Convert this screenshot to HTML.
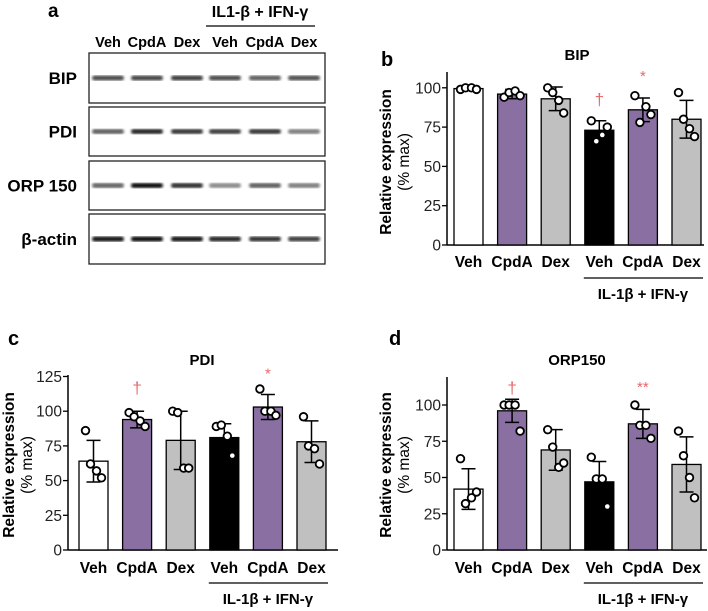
<!DOCTYPE html>
<html><head><meta charset="utf-8">
<style>
html,body{margin:0;padding:0;background:#fff;}
svg{display:block;font-family:"Liberation Sans",Arial,sans-serif;}
</style></head>
<body>
<svg id="fig" width="708" height="611" viewBox="0 0 708 611" xmlns="http://www.w3.org/2000/svg">
<defs>
<filter id="blur1"><feGaussianBlur stdDeviation="1.3"/></filter>
</defs>
</svg>
<script>
const categories = ["Veh","CpdA","Dex","Veh","CpdA","Dex"];
const fills = ["#ffffff","#8a6fa3","#c0c0c0","#000000","#8a6fa3","#c0c0c0"];
const bipMeans = [99.5,96,93,73,86,80];
const bipSD = [1,3,7.5,6,7.5,12];
const bipPoints = [[99,100,100,99],[94,97,98,95],[100,97,92,84],[79,66,70,75],[95,78,88,83],[97,80,74,69]];
const bipSig = [null,null,null,"†","*",null];
const bipSigY = [0,0,0,93,108,0];
const pdiMeans = [64,94,79,81,103,78];
const pdiSD = [15,6,21,10,9,15];
const pdiPoints = [[86,62,57,52],[99,96,93,89],[100,99,59,59],[89,90,82,68],[116,100,100,97],[96,75,73,62]];
const pdiSig = [null,"†",null,null,"*",null];
const pdiSigY = [0,117,0,0,128,0];
const orpMeans = [42,96,69,47,87,59];
const orpSD = [14,8,14,14,10,19];
const orpPoints = [[63,32,36,40],[100,100,100,82],[83,71,57,60],[64,49,49,30],[100,86,86,77],[82,65,50,36]];
const orpSig = [null,"†",null,null,"**",null];
const orpSigY = [0,112,0,0,113,0];
const bipTicks = [0,25,50,75,100];
const pdiTicks = [0,25,50,75,100,125];
const orpTicks = [0,25,50,75,100];
const blotRows = ["BIP","PDI","ORP 150","β-actin"];
const bandIntensity = [[0.7,0.72,0.75,0.7,0.62,0.68],[0.62,0.85,0.78,0.75,0.78,0.5],[0.6,0.95,0.8,0.45,0.62,0.5],[0.9,0.95,0.92,0.85,0.8,0.75]];

const NS="http://www.w3.org/2000/svg";
const svg=document.getElementById('fig');
function mk(tag,attrs,parent){const e=document.createElementNS(NS,tag);for(const k in attrs)e.setAttribute(k,attrs[k]);(parent||svg).appendChild(e);return e;}
function txt(s,attrs,parent){const e=mk('text',attrs,parent);e.textContent=s;return e;}

function chart(o){
  const g=mk('g',{});
  
  
  const y=v=>o.y0-(v/25)*o.px25;
  const x=i=>o.x0+o.first+i*o.step;
  const t=txt(o.title,{x:o.titleX,y:o.titleY,'text-anchor':'middle','font-size':15,'font-weight':'bold'},g);
  
  
  const L=txt(o.letter,{x:o.lx,y:o.ly,'font-size':20,'font-weight':'bold'},g);
  
  
  const ya=mk('line',{x1:o.x0,y1:o.yTop,x2:o.x0,y2:o.y0+0.5,stroke:'#000','stroke-width':1.5},g);
  
  
  const xa=mk('line',{x1:o.x0,y1:o.y0,x2:o.xEnd,y2:o.y0,stroke:'#000','stroke-width':1.5},g);
  
  
  o.ticks.forEach(v=>{
    mk('line',{x1:o.x0-5,y1:y(v),x2:o.x0,y2:y(v),stroke:'#000','stroke-width':1.3},g);
    const tl=txt(String(v),{x:o.x0-6,y:y(v)+5.5,'text-anchor':'end','font-size':15.5,fill:'#222'},g);
    
    
  });
  const yl=mk('text',{transform:`translate(${o.ytx},${o.tyc}) rotate(-90)`,'text-anchor':'middle','font-size':15.5},g);
  
  
  const s1=mk('tspan',{x:0,y:0,'font-weight':'bold'},yl);s1.textContent='Relative expression';
  const s2=mk('tspan',{x:0,y:18},yl);s2.textContent='(% max)';
  const bw=29;
  categories.forEach((c,i)=>{
    const cx=x(i);
    const m=o.means[i];
    const r=mk('rect',{x:cx-bw/2,y:y(m),width:bw,height:o.y0-y(m),fill:fills[i],stroke:'#000','stroke-width':1.3},g);
    
    
    const hi=y(m+o.sd[i]), lo=y(m-o.sd[i]);
    const eb=mk('path',{d:`M${cx},${hi}V${lo}M${cx-7},${hi}H${cx+7}M${cx-7},${lo}H${cx+7}`,stroke:'#000','stroke-width':1.5,fill:'none'},g);
    
    
    const offs=[-8,-3,3,8];
    o.points[i].forEach((p,j)=>{
      const dark=i===3&&p<m;
      const pt=mk('circle',{cx:cx+offs[j],cy:y(p),r:dark?2.3:3.8,fill:'#fff',stroke:'#000','stroke-width':dark?0:1.8},g);
      
      
    });
    const cl=txt(c,{x:cx,y:o.labY,'text-anchor':'middle','font-size':15.5,'font-weight':'bold'},g);
    
    
    if(o.sig[i]){
      const sg=txt(o.sig[i],{x:cx,y:y(o.sigY[i])+6,'text-anchor':'middle','font-size':o.sig[i]==='†'?17:15,fill:'#e8676a'},g);
      
      
    }
  });
  const ln=mk('line',{x1:x(3)-bw/2-1,y1:o.lineY,x2:x(5)+bw/2+2,y2:o.lineY,stroke:'#000','stroke-width':1.3},g);
  
  
  const il=txt('IL-1β + IFN-γ',{x:x(4),y:o.lineY+21,'text-anchor':'middle','font-size':15,'font-weight':'bold'},g);
  
  
}

chart({name:'bip',title:'BIP',titleX:577,titleY:60,letter:'b',lx:381,ly:66,x0:447,y0:245,px25:39.3,yTop:72,xEnd:704,first:21.5,step:43.6,ticks:bipTicks,ytx:391,tyc:162,means:bipMeans,sd:bipSD,points:bipPoints,sig:bipSig,sigY:bipSigY,labY:267,lineY:278});
chart({name:'pdi',title:'PDI',titleX:202,titleY:365,letter:'c',lx:8,ly:345,x0:68,y0:550,px25:34.7,yTop:375,xEnd:338,first:25.5,step:43.6,ticks:pdiTicks,ytx:14,tyc:465,means:pdiMeans,sd:pdiSD,points:pdiPoints,sig:pdiSig,sigY:pdiSigY,labY:573,lineY:583});
chart({name:'orp150',title:'ORP150',titleX:577,titleY:365,letter:'d',lx:389,ly:345,x0:447,y0:550,px25:36.25,yTop:377,xEnd:707,first:21.5,step:43.6,ticks:orpTicks,ytx:391,tyc:465,means:orpMeans,sd:orpSD,points:orpPoints,sig:orpSig,sigY:orpSigY,labY:573,lineY:583});

(function(){
  const g=mk('g',{});
  
  
  const a=txt('a',{x:48,y:17,'font-size':19,'font-weight':'bold'},g);
  
  
  const h=txt('IL1-β + IFN-γ',{x:260,y:17,'text-anchor':'middle','font-size':16,'font-weight':'bold'},g);
  
  
  const hl=mk('line',{x1:206,y1:26,x2:315,y2:26,stroke:'#000','stroke-width':1.2},g);
  
  
  const lanes=[108,147,187,225,265,304];
  categories.forEach((c,i)=>{
    const l=txt(c,{x:lanes[i],y:47,'text-anchor':'middle','font-size':14.5,'font-weight':'bold'},g);
    
    
  });
  const boxes=[[53,103],[107,156],[161,210],[214,264]];
  blotRows.forEach((r,k)=>{
    const [t,b]=boxes[k];
    const bx=mk('rect',{x:89,y:t,width:236,height:b-t,fill:'#fff',stroke:'#222','stroke-width':1.3},g);
    
    
    const lb=txt(r,{x:77,y:(t+b)/2+6,'text-anchor':'end','font-size':17,'font-weight':'bold'},g);
    
    
    lanes.forEach((lx,i)=>{
      const v=bandIntensity[k][i];
      const sh=Math.round(255*(1-v));
      const bd=mk('rect',{x:lx-16,y:(t+b)/2-2.5,width:32,height:5,rx:2.5,fill:`rgb(${sh},${sh},${sh})`,filter:'url(#blur1)'},g);
      
      
    });
  });
})();
</script>
</body></html>
